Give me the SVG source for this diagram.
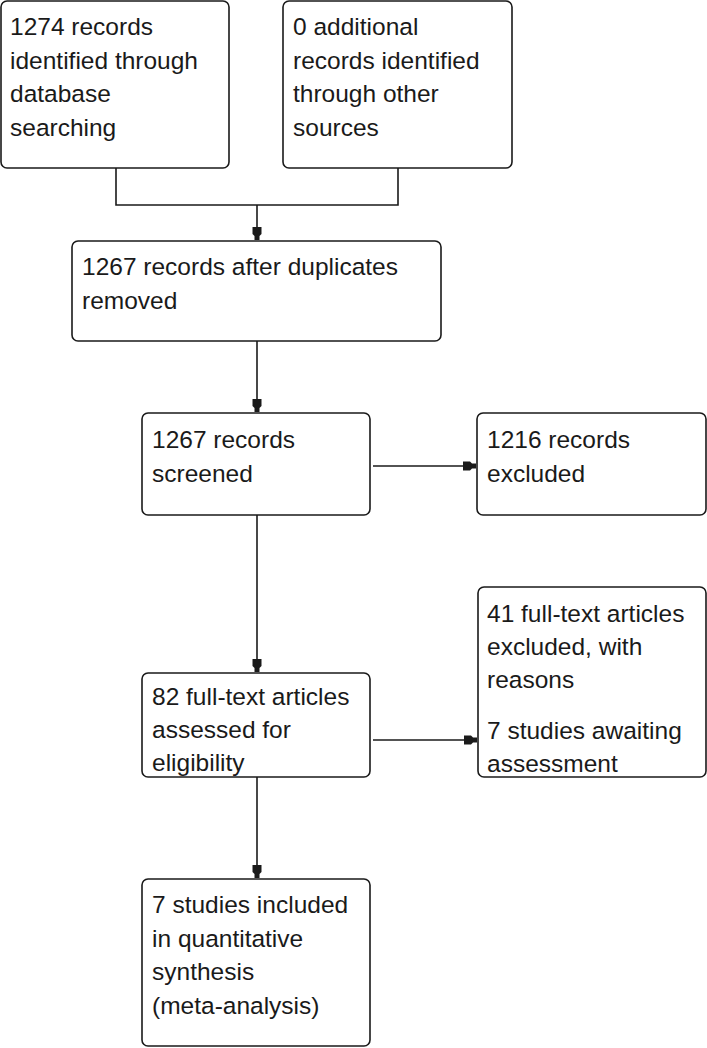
<svg xmlns="http://www.w3.org/2000/svg" width="707" height="1048" viewBox="0 0 707 1048">
<style>
.box{fill:#fff;stroke:#1a1a1a;stroke-width:1.6}
.t{font-family:"Liberation Sans",Arial,sans-serif;font-size:24.5px;fill:#1a1a1a}
.c{fill:none;stroke:#1a1a1a;stroke-width:1.6}
</style>
<defs>
<marker id="ah" markerUnits="userSpaceOnUse" markerWidth="14" markerHeight="10" viewBox="-13 -5 14 10" refX="0" refY="0" orient="auto">
<path d="M-13,-4.5 L-6,-4.5 L-4,-2.5 L0,-2.5 L0,2.5 L-4,2.5 L-6,4.5 L-13,4.5 Z" fill="#1a1a1a"/>
</marker>
</defs>
<rect width="707" height="1048" fill="#fff"/>
<g id="connectors">
<path class="c" d="M116,168 V205 H398 V168"/>
<path class="c" d="M257,205 V240" marker-end="url(#ah)"/>
<path class="c" d="M257,341 V412" marker-end="url(#ah)"/>
<path class="c" d="M373,466 H476" marker-end="url(#ah)"/>
<path class="c" d="M257,515 V672" marker-end="url(#ah)"/>
<path class="c" d="M373,740 H477" marker-end="url(#ah)"/>
<path class="c" d="M257,777 V878" marker-end="url(#ah)"/>
</g>
<g id="n1">
<rect class="box" x="1" y="1" width="228" height="167" rx="6"/>
<text class="t" x="10"><tspan x="10" y="35">1274 records</tspan><tspan x="10" y="68.5">identified through</tspan><tspan x="10" y="102">database</tspan><tspan x="10" y="135.5">searching</tspan></text>
</g>
<g id="n2">
<rect class="box" x="283" y="1" width="229" height="167" rx="6"/>
<text class="t"><tspan x="293" y="35">0 additional</tspan><tspan x="293" y="68.5">records identified</tspan><tspan x="293" y="102">through other</tspan><tspan x="293" y="135.5">sources</tspan></text>
</g>
<g id="n3">
<rect class="box" x="72" y="241" width="369" height="100" rx="6"/>
<text class="t"><tspan x="82" y="275">1267 records after duplicates</tspan><tspan x="82" y="308.5">removed</tspan></text>
</g>
<g id="n4">
<rect class="box" x="142" y="413" width="228" height="102" rx="6"/>
<text class="t"><tspan x="152" y="448">1267 records</tspan><tspan x="152" y="481.5">screened</tspan></text>
</g>
<g id="n5">
<rect class="box" x="477" y="413" width="229" height="102" rx="6"/>
<text class="t"><tspan x="487" y="448">1216 records</tspan><tspan x="487" y="481.5">excluded</tspan></text>
</g>
<g id="n6">
<rect class="box" x="142" y="673" width="228" height="104" rx="6"/>
<text class="t"><tspan x="152" y="705">82 full-text articles</tspan><tspan x="152" y="738">assessed for</tspan><tspan x="152" y="771">eligibility</tspan></text>
</g>
<g id="n7">
<rect class="box" x="478" y="587" width="228" height="190" rx="6"/>
<text class="t"><tspan x="487" y="622">41 full-text articles</tspan><tspan x="487" y="655">excluded, with</tspan><tspan x="487" y="688">reasons</tspan><tspan x="487" y="739">7 studies awaiting</tspan><tspan x="487" y="772">assessment</tspan></text>
</g>
<g id="n8">
<rect class="box" x="142" y="879" width="228" height="167" rx="6"/>
<text class="t"><tspan x="152" y="913">7 studies included</tspan><tspan x="152" y="946.5">in quantitative</tspan><tspan x="152" y="980">synthesis</tspan><tspan x="152" y="1013.5">(meta-analysis)</tspan></text>
</g>
</svg>
